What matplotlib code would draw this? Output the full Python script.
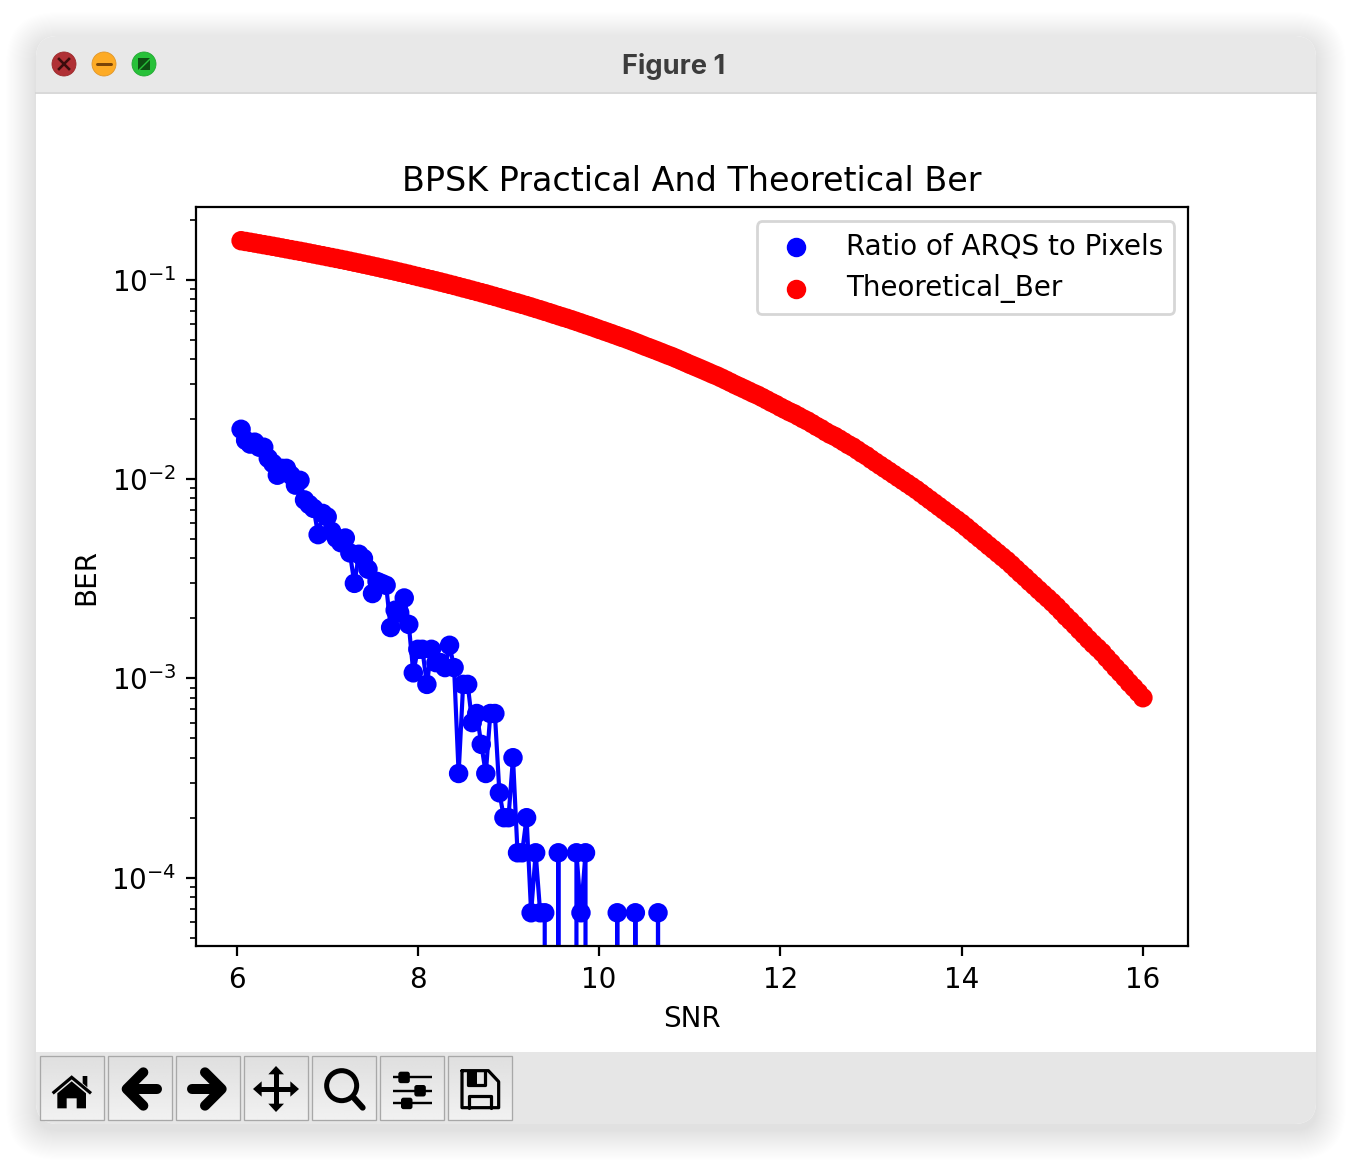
import numpy as np
import matplotlib
matplotlib.use("Agg")
import matplotlib.pyplot as plt
from matplotlib.patches import FancyBboxPatch, Circle, Polygon, Rectangle

W, H = 1352, 1160
DPI = 200

# SNR grid, one point every 0.05 dB
snr = np.arange(6.05, 16.01, 0.05)

# number of ARQs (ratio = count / pixels)
PIXELS = 15000
arq_counts = [267, 235, 225, 230, 217, 217, 191, 180, 157, 170,
              170, 157, 140, 148, 118, 112, 107, 79, 101, 97,
              82, 76, 72, 76, 64, 45, 63, 60, 53, 40,
              46, 45, 44, 27, 33, 32, 38, 28, 16, 21,
              21, 14, 21, 18, 18, 17, 22, 17, 5, 14,
              14, 9, 10, 7, 5, 10, 10, 4, 3, 3,
              6, 2, 2, 3, 1, 2, 1, 1, 0, 0,
              2, 0, 0, 0, 2, 1, 2, 0, 0, 0,
              0, 0, 0, 1, 0, 0, 0, 1, 0, 0,
              0, 0, 1] + [0] * 107

theoretical_ber = [
    .1573, .1559, .1545, .1531, .1517, .1503, .1489, .1475, .1461, .1447,
    .1433, .1419, .1405, .1392, .1378, .1364, .1350, .1336, .1323, .1309,
    .1295, .1282, .1268, .1255, .1241, .1227, .1214, .1200, .1187, .1173,
    .1160, .1146, .1133, .1120, .1107, .1093, .1080, .1067, .1053, .1040,
    .1027, .1014, .1002, .0989, .0976, .0963, .0950, .0938, .0925, .0912,
    .0900, .0887, .0875, .0863, .0851, .0838, .0826, .0814, .0801, .0789,
    .0777, .0766, .0754, .0743, .0731, .0719, .0708, .0696, .0685, .0673,
    .0662, .0651, .0641, .0630, .0619, .0608, .0597, .0587, .0576, .0565,
    .0555, .0545, .0535, .0525, .0515, .0506, .0496, .0486, .0476, .0466,
    .0457, .0448, .0439, .0430, .0421, .0413, .0404, .0395, .0386, .0377,
    .0369, .0361, .0353, .0345, .0337, .0330, .0322, .0314, .0306, .0298,
    .0291, .0284, .0277, .0270, .0264, .0257, .0250, .0243, .0237, .0230,
    .0224, .0218, .0213, .0207, .0201, .0196, .0190, .0184, .0179, .0173,
    .0168, .0164, .0159, .0154, .0149, .0145, .0140, .0135, .0131, .0126,
    .01216, .01174, .01134, .01095, .01057, .01020, .00985, .00951, .00918, .00886,
    .00852, .00819, .00788, .00758, .00729, .00701, .00674, .00648, .00624, .00600,
    .00575, .00550, .00527, .00505, .00484, .00463, .00444, .00425, .00407, .00390,
    .00372, .00354, .00337, .00322, .00306, .00292, .00278, .00265, .00253, .00241,
    .00229, .00217, .00205, .00195, .00185, .00175, .00166, .00157, .00149, .00142,
    .00135, .00127, .00120, .00113, .00107, .00101, .00095, .00090, .00085, .00080]

ratio = np.array(arq_counts) / PIXELS

fig = plt.figure(figsize=(W / DPI, H / DPI), dpi=DPI, facecolor="white")

# === WINDOW (drawn in pixel coordinates) ===
win = fig.add_axes([0, 0, 1, 1], zorder=0)
win.axis("off")

for i in range(30):
    pad = 30 * (1 - i / 30) ** 1.1
    win.add_patch(FancyBboxPatch((36 - pad, 36 - pad + 6), 1280 + 2 * pad, 1088 + 2 * pad,
                                 boxstyle="round,pad=0,rounding_size=%.1f" % (22 + pad),
                                 fc="black", ec="none", alpha=0.0052))

window = FancyBboxPatch((36, 36), 1280, 1088, boxstyle="round,pad=0,rounding_size=22",
                        fc="white", ec="none")
win.add_patch(window)
title_bar = Rectangle((36, 36), 1280, 56, fc="#e8e8e8", ec="none")
win.add_patch(title_bar)
title_bar.set_clip_path(window)
win.plot([36, 1316], [92.5, 92.5], color="#d2d2d2", lw=0.6)
toolbar = Rectangle((36, 1052), 1280, 72, fc="#e6e6e6", ec="none")
win.add_patch(toolbar)
toolbar.set_clip_path(window)
win.text(674, 63, "Figure 1", ha="center", va="center_baseline", fontsize=9.8,
         fontweight="bold", family="Inter", color="#3c3c3c")


def px(n):
    # pixels to points
    return n * 72 / DPI


# traffic lights
win.add_patch(Circle((64, 64), 12, fc="#b03035", ec="#9c2b2b", lw=0.3))
win.add_patch(Circle((104, 64), 12, fc="#fdab25", ec="#e0962a", lw=0.3))
win.add_patch(Circle((144, 64), 12, fc="#27c139", ec="#22a832", lw=0.3))
win.plot([59, 69], [59, 69], color="#3c0c0c", lw=px(2.6))
win.plot([59, 69], [69, 59], color="#3c0c0c", lw=px(2.6))
win.plot([97, 111], [64, 64], color="#7a4508", lw=px(3), solid_capstyle="round")
win.add_patch(Polygon([(138, 58), (150, 58), (138, 70)], fc="#0d4f12", ec="none"))
win.add_patch(Polygon([(150, 60), (150, 70), (140, 70)], fc="#0d4f12", ec="none"))

# toolbar buttons
for left in [40, 108, 176, 244, 312, 380, 448]:
    shade = np.linspace(0.875, 0.945, 32).reshape(-1, 1)
    win.imshow(shade, cmap="gray", vmin=0, vmax=1, aspect="auto", interpolation="bilinear",
               extent=(left, left + 64, 1120, 1056), zorder=3)
    win.add_patch(Rectangle((left, 1056), 64, 64, fc="none", ec="#a8a8a8", lw=px(1.3), zorder=4))


def z(points):
    # coordinates taken from the toolbar crop (3x, origin 20,1040)
    return [(20 + a / 3, 1040 + b / 3) for a, b in points]


def stroke(points, width, cap="round", join="round"):
    xy = np.array(z(points))
    win.plot(xy[:, 0], xy[:, 1], color="black", lw=px(width), zorder=5,
             solid_capstyle=cap, solid_joinstyle=join)


def fill(points, color="black"):
    win.add_patch(Polygon(z(points), fc=color, ec="none", zorder=5))


# home
stroke([(98, 160), (155, 112), (213, 160)], 3.2, cap="butt", join="miter")
fill([(112, 205), (112, 160), (155, 124), (198, 160), (198, 205), (170, 205), (170, 175),
      (140, 175), (140, 205)])
fill([(188, 108), (202, 108), (202, 142), (188, 130)])
# back / forward
stroke([(410, 147), (325, 147)], 10)
stroke([(370, 97), (320, 147), (370, 197)], 10)
stroke([(515, 147), (600, 147)], 10)
stroke([(555, 97), (605, 147), (555, 197)], 10)
# pan
stroke([(768, 95), (768, 200)], 5, cap="butt")
stroke([(715, 147), (822, 147)], 5, cap="butt")
fill([(745, 103), (768, 78), (792, 103)])
fill([(745, 191), (768, 216), (792, 191)])
fill([(725, 124), (699, 147), (725, 170)])
fill([(811, 124), (837, 147), (811, 170)])
# zoom
win.add_patch(Circle(z([(965, 137)])[0], 15, fc="none", ec="black", lw=px(5), zorder=5))
stroke([(1002, 174), (1028, 203)], 6)
# configure subplots
for y_line, x_knob in [(112, 1152), (152, 1200), (190, 1160)]:
    stroke([(1118, y_line), (1235, y_line)], 2.4, cap="butt")
    a, b = z([(x_knob - 17, y_line - 17)])[0]
    win.add_patch(FancyBboxPatch((a, b), 11.5, 11.5, boxstyle="round,pad=0,rounding_size=2.5",
                                 fc="black", ec="none", zorder=5))
# save
stroke([(1326, 92), (1405, 92), (1436, 125), (1436, 203), (1326, 203), (1326, 92)], 3.2)
stroke([(1345, 95), (1345, 135), (1396, 135), (1396, 95)], 3.2)
fill([(1345, 95), (1370, 95), (1370, 135), (1345, 135)])
stroke([(1346, 203), (1346, 167), (1414, 167), (1414, 203)], 3.2)

win.set_xlim(0, W)
win.set_ylim(H, 0)

# === CHART ===
# one size per point so agg does not round each marker to a whole pixel
sizes = [36] * len(snr)
ax = fig.add_axes([196 / W, 1 - 946.4 / H, 992 / W, 739.2 / H], zorder=1)
ax.scatter(snr, ratio, s=sizes, color="blue", label="Ratio of ARQS to Pixels")
ax.plot(snr, ratio, color="blue")
ax.scatter(snr, theoretical_ber, s=sizes, color="red", label="Theoretical_Ber")
ax.set_yscale("log")
ax.set_xlim(5.5525, 16.4975)
ax.set_ylim(4.52e-5, 0.2317)
ax.set_xticks([6, 8, 10, 12, 14, 16])
ax.set_xlabel("SNR")
ax.set_ylabel("BER")
ax.set_title("BPSK Practical And Theoretical Ber")
ax.legend(loc="upper right")

fig.savefig("out.png", dpi=DPI)
